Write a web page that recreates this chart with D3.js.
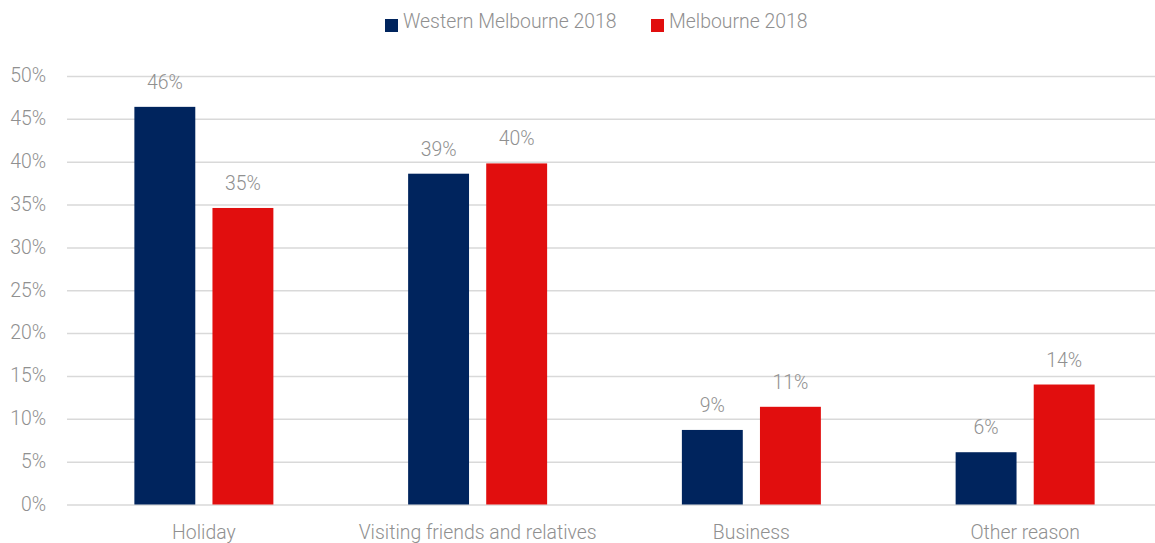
<!DOCTYPE html>
<html>
<head>
<meta charset="utf-8">
<script src="https://cdn.jsdelivr.net/npm/d3@7"></script>
<style>
  body { margin: 0; background: #fff; }
  text { font-family: Roboto, "Open Sans", sans-serif; font-weight: 300; fill: #909090; }
</style>
</head>
<body>
<svg id="chart" width="1155" height="543"></svg>
<script>
// data
const categories = ['Holiday', 'Visiting friends and relatives', 'Business', 'Other reason'];
const seriesNames = ['Western Melbourne 2018', 'Melbourne 2018'];
const westernMelbourne = [46.4, 38.6, 8.7, 6.1];
const melbourne = [34.6, 39.8, 11.4, 14.0];
const yTicks = [0, 5, 10, 15, 20, 25, 30, 35, 40, 45, 50];
const colors = ['#00245d', '#e10e0e'];

const svg = d3.select('#chart');
const margin = {left: 67, right: -7, top: 76, bottom: 38.5};
const width = 1155 - margin.left - margin.right;
const height = 543 - margin.top - margin.bottom;
const fontSize = 19.4;

const g = svg.append('g').attr('transform', `translate(${margin.left},${margin.top})`);

let x0 = d3.scaleBand().domain(categories).range([0, width]);
let x1 = d3.scaleBand().domain(seriesNames)
            .range([x0.bandwidth() / 2 - 69.5, x0.bandwidth() / 2 + 69.5])
            .paddingInner(0.22);
let y = d3.scaleLinear().domain([0, 50]).range([height, 0]);

// grid lines + y labels
let yAxis = g.append('g')
             .call(d3.axisLeft(y).tickValues(yTicks).tickSize(-width).tickFormat(d => d + '%'));
yAxis.select('.domain').remove();
yAxis.selectAll('.tick line').attr('stroke', '#d9d9d9').attr('stroke-width', 1.5);
yAxis.selectAll('.tick text').attr('x', -21).attr('font-size', fontSize).attr('dy', '0.3em');

// x labels
let xAxis = g.append('g')
             .attr('transform', `translate(0,${height})`)
             .call(d3.axisBottom(x0).tickSize(0));
xAxis.select('.domain').remove();
xAxis.selectAll('.tick text').attr('y', 34).attr('dy', 0).attr('font-size', fontSize);

const rows = categories.map((c, i) => ({
    category: c,
    values: [
        {name: seriesNames[0], value: westernMelbourne[i], color: colors[0]},
        {name: seriesNames[1], value: melbourne[i], color: colors[1]}
    ]
}));

let groups = g.selectAll('.group')
              .data(rows)
              .enter().append('g')
              .attr('transform', d => `translate(${x0(d.category)},0)`);

groups.selectAll('rect')
      .data(d => d.values)
      .enter().append('rect')
      .attr('x', d => x1(d.name))
      .attr('width', x1.bandwidth())
      .attr('y', d => y(d.value))
      .attr('height', d => height - y(d.value))
      .attr('fill', d => d.color);

groups.selectAll('.val')
      .data(d => d.values)
      .enter().append('text')
      .classed('val', true)
      .attr('x', d => x1(d.name) + x1.bandwidth() / 2)
      .attr('y', d => y(d.value) - 18)
      .attr('text-anchor', 'middle')
      .attr('font-size', fontSize)
      .text(d => Math.round(d.value) + '%');

// legend
const legendX = [385, 651];
let legend = svg.selectAll('.legend')
                .data(seriesNames)
                .enter().append('g')
                .attr('transform', (d, i) => `translate(${legendX[i]},19)`);
legend.append('rect').attr('width', 13).attr('height', 13).attr('fill', (d, i) => colors[i]);
legend.append('text').attr('x', 18).attr('y', 9).attr('font-size', fontSize).text(d => d);
</script>
</body>
</html>
